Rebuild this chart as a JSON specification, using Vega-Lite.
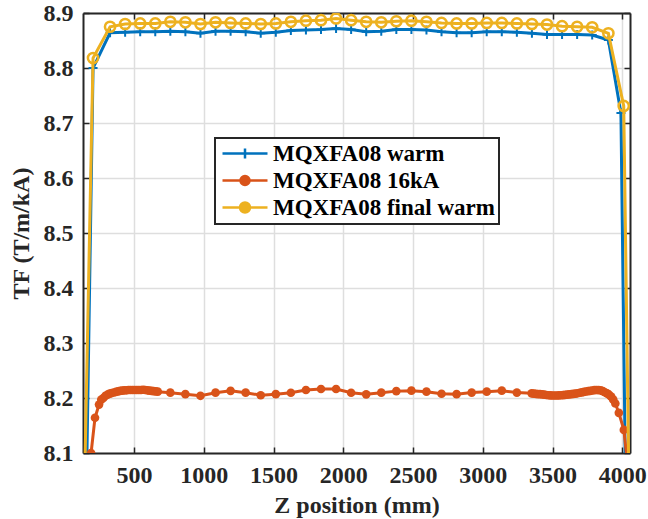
{
  "$schema": "https://vega.github.io/schema/vega-lite/v6.json",
  "width": 547,
  "height": 440,
  "autosize": {"type": "none"},
  "padding": {"left": 83, "top": 13, "right": 18, "bottom": 66},
  "background": "white",
  "data": {"values": [
    {"s":"MQXFA08 warm","z":150,"tf":7.9},
    {"s":"MQXFA08 warm","z":206,"tf":8.8},
    {"s":"MQXFA08 warm","z":328,"tf":8.864},
    {"s":"MQXFA08 warm","z":436,"tf":8.865},
    {"s":"MQXFA08 warm","z":544,"tf":8.866},
    {"s":"MQXFA08 warm","z":652,"tf":8.866},
    {"s":"MQXFA08 warm","z":760,"tf":8.867},
    {"s":"MQXFA08 warm","z":868,"tf":8.866},
    {"s":"MQXFA08 warm","z":976,"tf":8.863},
    {"s":"MQXFA08 warm","z":1084,"tf":8.867},
    {"s":"MQXFA08 warm","z":1192,"tf":8.867},
    {"s":"MQXFA08 warm","z":1300,"tf":8.866},
    {"s":"MQXFA08 warm","z":1408,"tf":8.863},
    {"s":"MQXFA08 warm","z":1516,"tf":8.865},
    {"s":"MQXFA08 warm","z":1624,"tf":8.868},
    {"s":"MQXFA08 warm","z":1732,"tf":8.869},
    {"s":"MQXFA08 warm","z":1840,"tf":8.87},
    {"s":"MQXFA08 warm","z":1948,"tf":8.872},
    {"s":"MQXFA08 warm","z":2056,"tf":8.87},
    {"s":"MQXFA08 warm","z":2164,"tf":8.866},
    {"s":"MQXFA08 warm","z":2272,"tf":8.867},
    {"s":"MQXFA08 warm","z":2380,"tf":8.87},
    {"s":"MQXFA08 warm","z":2488,"tf":8.87},
    {"s":"MQXFA08 warm","z":2596,"tf":8.869},
    {"s":"MQXFA08 warm","z":2704,"tf":8.866},
    {"s":"MQXFA08 warm","z":2812,"tf":8.864},
    {"s":"MQXFA08 warm","z":2920,"tf":8.864},
    {"s":"MQXFA08 warm","z":3028,"tf":8.866},
    {"s":"MQXFA08 warm","z":3136,"tf":8.866},
    {"s":"MQXFA08 warm","z":3244,"tf":8.865},
    {"s":"MQXFA08 warm","z":3352,"tf":8.863},
    {"s":"MQXFA08 warm","z":3460,"tf":8.861},
    {"s":"MQXFA08 warm","z":3568,"tf":8.861},
    {"s":"MQXFA08 warm","z":3676,"tf":8.861},
    {"s":"MQXFA08 warm","z":3784,"tf":8.86},
    {"s":"MQXFA08 warm","z":3900,"tf":8.851},
    {"s":"MQXFA08 warm","z":3990,"tf":8.718},
    {"s":"MQXFA08 warm","z":4030,"tf":7.9},
    {"s":"MQXFA08 16kA","z":192,"tf":8.1},
    {"s":"MQXFA08 16kA","z":220,"tf":8.164},
    {"s":"MQXFA08 16kA","z":249,"tf":8.188},
    {"s":"MQXFA08 16kA","z":265,"tf":8.197},
    {"s":"MQXFA08 16kA","z":280,"tf":8.2},
    {"s":"MQXFA08 16kA","z":295,"tf":8.204},
    {"s":"MQXFA08 16kA","z":310,"tf":8.206},
    {"s":"MQXFA08 16kA","z":325,"tf":8.208},
    {"s":"MQXFA08 16kA","z":340,"tf":8.209},
    {"s":"MQXFA08 16kA","z":355,"tf":8.21},
    {"s":"MQXFA08 16kA","z":370,"tf":8.211},
    {"s":"MQXFA08 16kA","z":385,"tf":8.212},
    {"s":"MQXFA08 16kA","z":400,"tf":8.213},
    {"s":"MQXFA08 16kA","z":415,"tf":8.2135},
    {"s":"MQXFA08 16kA","z":430,"tf":8.214},
    {"s":"MQXFA08 16kA","z":445,"tf":8.214},
    {"s":"MQXFA08 16kA","z":460,"tf":8.2145},
    {"s":"MQXFA08 16kA","z":475,"tf":8.2145},
    {"s":"MQXFA08 16kA","z":490,"tf":8.2145},
    {"s":"MQXFA08 16kA","z":505,"tf":8.2145},
    {"s":"MQXFA08 16kA","z":520,"tf":8.2145},
    {"s":"MQXFA08 16kA","z":535,"tf":8.2145},
    {"s":"MQXFA08 16kA","z":550,"tf":8.2145},
    {"s":"MQXFA08 16kA","z":565,"tf":8.215},
    {"s":"MQXFA08 16kA","z":580,"tf":8.2145},
    {"s":"MQXFA08 16kA","z":595,"tf":8.214},
    {"s":"MQXFA08 16kA","z":610,"tf":8.2135},
    {"s":"MQXFA08 16kA","z":625,"tf":8.213},
    {"s":"MQXFA08 16kA","z":640,"tf":8.2125},
    {"s":"MQXFA08 16kA","z":655,"tf":8.212},
    {"s":"MQXFA08 16kA","z":670,"tf":8.2115},
    {"s":"MQXFA08 16kA","z":760,"tf":8.2097},
    {"s":"MQXFA08 16kA","z":868,"tf":8.207},
    {"s":"MQXFA08 16kA","z":976,"tf":8.204},
    {"s":"MQXFA08 16kA","z":1084,"tf":8.2097},
    {"s":"MQXFA08 16kA","z":1192,"tf":8.213},
    {"s":"MQXFA08 16kA","z":1300,"tf":8.2097},
    {"s":"MQXFA08 16kA","z":1408,"tf":8.205},
    {"s":"MQXFA08 16kA","z":1516,"tf":8.207},
    {"s":"MQXFA08 16kA","z":1624,"tf":8.2096},
    {"s":"MQXFA08 16kA","z":1732,"tf":8.2145},
    {"s":"MQXFA08 16kA","z":1840,"tf":8.2164},
    {"s":"MQXFA08 16kA","z":1948,"tf":8.2164},
    {"s":"MQXFA08 16kA","z":2056,"tf":8.2096},
    {"s":"MQXFA08 16kA","z":2164,"tf":8.2067},
    {"s":"MQXFA08 16kA","z":2272,"tf":8.2097},
    {"s":"MQXFA08 16kA","z":2380,"tf":8.2125},
    {"s":"MQXFA08 16kA","z":2488,"tf":8.2133},
    {"s":"MQXFA08 16kA","z":2596,"tf":8.2115},
    {"s":"MQXFA08 16kA","z":2704,"tf":8.2078},
    {"s":"MQXFA08 16kA","z":2812,"tf":8.207},
    {"s":"MQXFA08 16kA","z":2920,"tf":8.2098},
    {"s":"MQXFA08 16kA","z":3028,"tf":8.2115},
    {"s":"MQXFA08 16kA","z":3136,"tf":8.2133},
    {"s":"MQXFA08 16kA","z":3244,"tf":8.2098},
    {"s":"MQXFA08 16kA","z":3350,"tf":8.2085},
    {"s":"MQXFA08 16kA","z":3365,"tf":8.208},
    {"s":"MQXFA08 16kA","z":3380,"tf":8.2075},
    {"s":"MQXFA08 16kA","z":3395,"tf":8.207},
    {"s":"MQXFA08 16kA","z":3410,"tf":8.207},
    {"s":"MQXFA08 16kA","z":3425,"tf":8.2065},
    {"s":"MQXFA08 16kA","z":3440,"tf":8.206},
    {"s":"MQXFA08 16kA","z":3455,"tf":8.2055},
    {"s":"MQXFA08 16kA","z":3470,"tf":8.205},
    {"s":"MQXFA08 16kA","z":3485,"tf":8.2048},
    {"s":"MQXFA08 16kA","z":3500,"tf":8.2045},
    {"s":"MQXFA08 16kA","z":3515,"tf":8.2045},
    {"s":"MQXFA08 16kA","z":3530,"tf":8.2045},
    {"s":"MQXFA08 16kA","z":3545,"tf":8.2047},
    {"s":"MQXFA08 16kA","z":3560,"tf":8.205},
    {"s":"MQXFA08 16kA","z":3575,"tf":8.2053},
    {"s":"MQXFA08 16kA","z":3590,"tf":8.2056},
    {"s":"MQXFA08 16kA","z":3605,"tf":8.206},
    {"s":"MQXFA08 16kA","z":3620,"tf":8.2065},
    {"s":"MQXFA08 16kA","z":3635,"tf":8.207},
    {"s":"MQXFA08 16kA","z":3650,"tf":8.2075},
    {"s":"MQXFA08 16kA","z":3665,"tf":8.208},
    {"s":"MQXFA08 16kA","z":3680,"tf":8.2087},
    {"s":"MQXFA08 16kA","z":3695,"tf":8.2095},
    {"s":"MQXFA08 16kA","z":3710,"tf":8.2103},
    {"s":"MQXFA08 16kA","z":3725,"tf":8.211},
    {"s":"MQXFA08 16kA","z":3740,"tf":8.2118},
    {"s":"MQXFA08 16kA","z":3755,"tf":8.2125},
    {"s":"MQXFA08 16kA","z":3770,"tf":8.213},
    {"s":"MQXFA08 16kA","z":3785,"tf":8.2137},
    {"s":"MQXFA08 16kA","z":3800,"tf":8.2143},
    {"s":"MQXFA08 16kA","z":3815,"tf":8.2145},
    {"s":"MQXFA08 16kA","z":3830,"tf":8.2143},
    {"s":"MQXFA08 16kA","z":3845,"tf":8.214},
    {"s":"MQXFA08 16kA","z":3860,"tf":8.2125},
    {"s":"MQXFA08 16kA","z":3875,"tf":8.2105},
    {"s":"MQXFA08 16kA","z":3890,"tf":8.2085},
    {"s":"MQXFA08 16kA","z":3905,"tf":8.206},
    {"s":"MQXFA08 16kA","z":3920,"tf":8.2025},
    {"s":"MQXFA08 16kA","z":3935,"tf":8.197},
    {"s":"MQXFA08 16kA","z":3950,"tf":8.19},
    {"s":"MQXFA08 16kA","z":3975,"tf":8.173},
    {"s":"MQXFA08 16kA","z":4011,"tf":8.142},
    {"s":"MQXFA08 16kA","z":4050,"tf":8.05},
    {"s":"MQXFA08 final warm","z":134,"tf":7.9},
    {"s":"MQXFA08 final warm","z":206,"tf":8.818},
    {"s":"MQXFA08 final warm","z":328,"tf":8.875},
    {"s":"MQXFA08 final warm","z":436,"tf":8.88},
    {"s":"MQXFA08 final warm","z":544,"tf":8.881},
    {"s":"MQXFA08 final warm","z":652,"tf":8.881},
    {"s":"MQXFA08 final warm","z":760,"tf":8.884},
    {"s":"MQXFA08 final warm","z":868,"tf":8.883},
    {"s":"MQXFA08 final warm","z":976,"tf":8.88},
    {"s":"MQXFA08 final warm","z":1084,"tf":8.883},
    {"s":"MQXFA08 final warm","z":1192,"tf":8.882},
    {"s":"MQXFA08 final warm","z":1300,"tf":8.881},
    {"s":"MQXFA08 final warm","z":1408,"tf":8.88},
    {"s":"MQXFA08 final warm","z":1516,"tf":8.881},
    {"s":"MQXFA08 final warm","z":1624,"tf":8.884},
    {"s":"MQXFA08 final warm","z":1732,"tf":8.886},
    {"s":"MQXFA08 final warm","z":1840,"tf":8.887},
    {"s":"MQXFA08 final warm","z":1948,"tf":8.89},
    {"s":"MQXFA08 final warm","z":2056,"tf":8.887},
    {"s":"MQXFA08 final warm","z":2164,"tf":8.884},
    {"s":"MQXFA08 final warm","z":2272,"tf":8.883},
    {"s":"MQXFA08 final warm","z":2380,"tf":8.885},
    {"s":"MQXFA08 final warm","z":2488,"tf":8.886},
    {"s":"MQXFA08 final warm","z":2596,"tf":8.884},
    {"s":"MQXFA08 final warm","z":2704,"tf":8.882},
    {"s":"MQXFA08 final warm","z":2812,"tf":8.881},
    {"s":"MQXFA08 final warm","z":2920,"tf":8.881},
    {"s":"MQXFA08 final warm","z":3028,"tf":8.882},
    {"s":"MQXFA08 final warm","z":3136,"tf":8.882},
    {"s":"MQXFA08 final warm","z":3244,"tf":8.881},
    {"s":"MQXFA08 final warm","z":3352,"tf":8.88},
    {"s":"MQXFA08 final warm","z":3460,"tf":8.879},
    {"s":"MQXFA08 final warm","z":3568,"tf":8.876},
    {"s":"MQXFA08 final warm","z":3676,"tf":8.875},
    {"s":"MQXFA08 final warm","z":3784,"tf":8.874},
    {"s":"MQXFA08 final warm","z":3900,"tf":8.863},
    {"s":"MQXFA08 final warm","z":4010,"tf":8.731},
    {"s":"MQXFA08 final warm","z":4055,"tf":7.9}
  ]},
  "resolve": {"axis": {"x": "independent", "y": "independent"}},
  "layer": [
    {
      "encoding": {
        "x": {"field": "z", "type": "quantitative", "scale": {"domain": [134, 4055], "nice": false, "zero": false},
              "axis": {"title": "Z position (mm)", "labelFont": "serif", "titleFont": "serif", "values": [500,1000,1500,2000,2500,3000,3500,4000], "format": "d", "grid": true, "titlePadding": 6}},
        "y": {"field": "tf", "type": "quantitative", "scale": {"domain": [8.1, 8.9], "nice": false, "zero": false},
              "axis": {"title": "TF (T/m/kA)", "labelFont": "serif", "titleFont": "serif", "values": [8.1,8.2,8.3,8.4,8.5,8.6,8.7,8.8,8.9], "format": ".1f", "grid": true, "titlePadding": 10}},
        "color": {"field": "s", "type": "nominal",
          "scale": {"domain": ["MQXFA08 warm", "MQXFA08 16kA", "MQXFA08 final warm"], "range": ["#0072BD", "#D95319", "#EDB120"]},
          "legend": {
            "title": null, "orient": "none", "legendX": 132, "legendY": 125,
            "padding": 4, "fillColor": "white", "strokeColor": "#262626",
            "symbolSize": 400, "symbolStrokeWidth": 2, "labelOffset": 31, "rowPadding": 3,
            "labelFont": "serif", "labelFontWeight": "bold", "labelFontSize": 23, "labelColor": "black", "labelLimit": 400,
            "encode": {
              "legend": {"update": {"strokeWidth": {"value": 2}}},
              "symbols": {"update": {
                "shape": {"signal": "datum.value === 'MQXFA08 warm' ? 'M-0.8,0L3.7,0M1.45,-0.5L1.45,0.5' : (datum.value === 'MQXFA08 16kA' ? 'M-0.8,0L3.7,0M1.9,0A0.45,0.45,0,1,1,1,0A0.45,0.45,0,1,1,1.9,0Z' : 'M-0.8,0L3.7,0M1.95,0A0.5,0.5,0,1,1,0.95,0A0.5,0.5,0,1,1,1.95,0Z')"},
                "fill": {"signal": "datum.value === 'MQXFA08 16kA' ? '#D95319' : 'transparent'"},
                "stroke": {"scale": "color", "field": "value"},
                "strokeWidth": {"value": 2.5},
                "opacity": {"value": 1},
                "fillOpacity": {"value": 1},
                "strokeOpacity": {"value": 1}
              }}
            }
          }}
      },
      "layer": [
        {"transform": [{"filter": "datum.s === 'MQXFA08 warm'"}], "mark": {"type": "line", "strokeWidth": 3, "clip": true}},
        {"transform": [{"filter": "datum.s === 'MQXFA08 warm'"}], "mark": {"type": "point", "shape": "M-1,0L1,0M0,-1L0,1", "filled": false, "size": 81, "strokeWidth": 2, "opacity": 1, "clip": true}},
        {"transform": [{"filter": "datum.s === 'MQXFA08 16kA'"}], "mark": {"type": "line", "strokeWidth": 3, "clip": true}},
        {"transform": [{"filter": "datum.s === 'MQXFA08 16kA'"}], "mark": {"type": "point", "shape": "circle", "filled": true, "size": 75, "opacity": 1, "clip": true}},
        {"transform": [{"filter": "datum.s === 'MQXFA08 final warm'"}], "mark": {"type": "line", "strokeWidth": 3, "clip": true}},
        {"transform": [{"filter": "datum.s === 'MQXFA08 final warm'"}], "mark": {"type": "point", "shape": "circle", "filled": false, "size": 105, "strokeWidth": 2.5, "opacity": 1, "clip": true}}
      ]
    },
    {
      "mark": {"type": "point", "opacity": 0, "clip": true},
      "encoding": {
        "x": {"field": "z", "type": "quantitative", "scale": {"domain": [134, 4055], "nice": false, "zero": false},
              "axis": {"orient": "top", "title": null, "labels": false, "grid": false, "values": [500,1000,1500,2000,2500,3000,3500,4000]}},
        "y": {"field": "tf", "type": "quantitative", "scale": {"domain": [8.1, 8.9], "nice": false, "zero": false},
              "axis": {"orient": "right", "title": null, "labels": false, "grid": false, "values": [8.1,8.2,8.3,8.4,8.5,8.6,8.7,8.8,8.9]}}
      }
    }
  ],
  "config": {
    "view": {"stroke": null},
    "axis": {
      "labelFontWeight": "bold", "labelFontSize": 24, "labelColor": "#262626",
      "titleFontWeight": "bold", "titleFontSize": 24, "titleColor": "#262626",
      "domainColor": "#262626", "domainWidth": 2, "tickColor": "#262626", "tickWidth": 1.5, "tickSize": -6,
      "gridColor": "#dedede", "gridWidth": 1.5, "labelPadding": 16, "labelFlush": false, "labelOverlap": false
    }
  }
}
